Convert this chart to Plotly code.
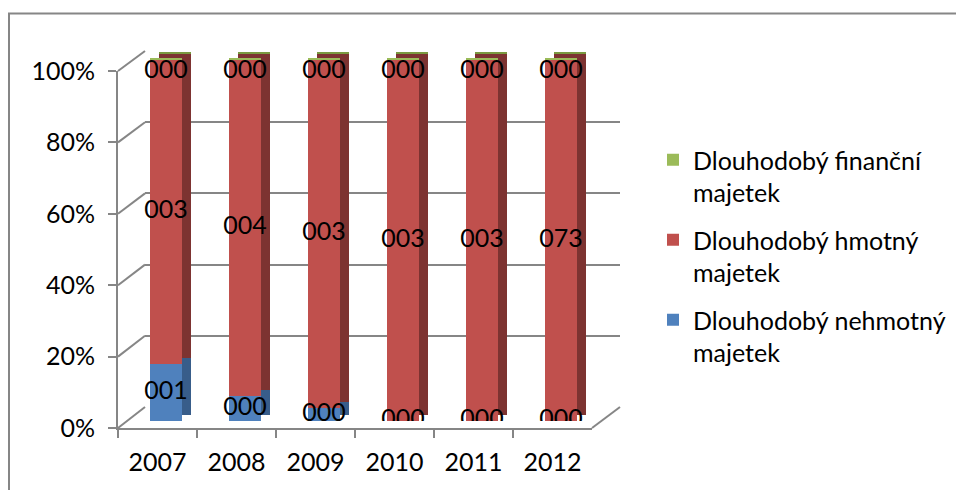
import plotly.graph_objects as go

# ---------------- data ----------------
years = ["2007", "2008", "2009", "2010", "2011", "2012"]
nehmotny = [15.7, 6.9, 3.7, 0.0, 0.0, 0.0]          # Dlouhodobý nehmotný majetek (%)
hmotny = [83.7, 92.5, 95.7, 99.4, 99.4, 99.4]        # Dlouhodobý hmotný majetek (%)
financni = [0.6, 0.6, 0.6, 0.6, 0.6, 0.6]            # Dlouhodobý finanční majetek (%)
nehmotny_lbl = ["001", "000", "000", "000", "000", "000"]
hmotny_lbl = ["003", "004", "003", "003", "003", "073"]
financni_lbl = ["000", "000", "000", "000", "000", "000"]
names = ["Dlouhodobý nehmotný<br>majetek", "Dlouhodobý hmotný<br>majetek", "Dlouhodobý finanční<br>majetek"]
y_ticks = [0, 20, 40, 60, 80, 100]
y_tick_text = ["0%", "20%", "40%", "60%", "80%", "100%"]

# ---------------- style ----------------
W, H = 956, 490
FONT = "Lato"
FS = 25
GRID = "#868686"
front_cols = ["#4F81BD", "#C0504D", "#9BBB59"]
side_cols = ["#385D8A", "#7D3331", "#7A9A40"]


def px(x):
    return x / W


def py(y):
    return 1 - y / H


# geometry (pixels)
front_x0, front_x1, front_y0, front_y1 = 118, 592, 428, 71   # front plane
back_x0, back_x1, back_y0, back_y1 = 145, 620, 407, 51       # back wall
bar_x0, bar_x1, bar_y0, bar_y1 = 126.5, 600.5, 421, 58       # bar front faces
dx, dy = 9, 6                                                # side-face depth

fig = go.Figure()

# back wall gridlines (subplot 1)
fig.add_trace(go.Scatter(x=years, y=[None] * len(years), xaxis="x", yaxis="y",
                         showlegend=False, hoverinfo="skip"))
# front axes (subplot 2)
fig.add_trace(go.Scatter(x=years, y=[None] * len(years), xaxis="x2", yaxis="y2",
                         showlegend=False, hoverinfo="skip"))

series = [nehmotny, hmotny, financni]
# side/top faces (subplot 3) - shifted copy of the stack
for vals, col in zip(series, side_cols):
    fig.add_trace(go.Bar(x=years, y=vals, xaxis="x3", yaxis="y3", marker=dict(color=col, line=dict(width=0)),
                         showlegend=False, hoverinfo="skip"))
# front faces (subplot 4)
for rank, (vals, col, nm) in zip([3, 2, 1], zip(series, front_cols, names)):
    fig.add_trace(go.Bar(x=years, y=vals, xaxis="x4", yaxis="y4", name=nm, legendrank=rank,
                         marker=dict(color=col, line=dict(width=0)), legendgroup=nm))

# data labels
cum = [0.0] * len(years)
positions = ["middle center", "middle center", "bottom center"]
for vals, lbls, pos in zip(series, [nehmotny_lbl, hmotny_lbl, financni_lbl], positions):
    mids = [c + v / 2 for c, v in zip(cum, vals)]
    cum = [c + v for c, v in zip(cum, vals)]
    fig.add_trace(go.Scatter(x=years, y=mids, xaxis="x4", yaxis="y4", mode="text", text=lbls,
                             textposition=pos, textfont=dict(family=FONT, size=FS, color="black"),
                             showlegend=False, hoverinfo="skip"))

hidden = dict(showgrid=False, zeroline=False, showline=False, showticklabels=False, ticks="")

fig.update_layout(
    width=W, height=H,
    margin=dict(l=0, r=0, t=0, b=0, autoexpand=False),
    paper_bgcolor="white", plot_bgcolor="rgba(0,0,0,0)",
    barmode="stack", bargap=0.595,
    font=dict(family=FONT, size=FS, color="black"),
    xaxis=dict(domain=[px(back_x0), px(back_x1)], range=[-0.5, 5.5], **hidden),
    yaxis=dict(domain=[py(back_y0), py(back_y1)], range=[0, 100], showgrid=True, gridcolor=GRID, gridwidth=2,
               tickvals=y_ticks, zeroline=False, showline=False, showticklabels=False, ticks=""),
    xaxis2=dict(domain=[px(front_x0), px(front_x1)], range=[-0.5, 5.5], anchor="y2", showgrid=False,
                zeroline=False, showline=True, linecolor=GRID, linewidth=2, ticks="outside",
                tickson="boundaries", ticklen=8, tickcolor=GRID, tickwidth=2, automargin=False,
                ticklabelstandoff=11,
                tickfont=dict(family=FONT, size=FS, color="black")),
    yaxis2=dict(domain=[py(front_y0), py(front_y1)], range=[0, 100], anchor="x2", showgrid=False,
                zeroline=False, showline=True, linecolor=GRID, linewidth=2, ticks="outside",
                ticklen=8, tickcolor=GRID, tickwidth=2, tickvals=y_ticks, ticktext=y_tick_text,
                automargin=False,
                tickfont=dict(family=FONT, size=FS, color="black"), ticklabelstandoff=8),
    xaxis3=dict(domain=[px(bar_x0 + dx), px(bar_x1 + dx)], range=[-0.5, 5.5], anchor="y3", **hidden),
    yaxis3=dict(domain=[py(bar_y0 - dy), py(bar_y1 - dy)], range=[0, 100], anchor="x3", **hidden),
    xaxis4=dict(domain=[px(bar_x0), px(bar_x1)], range=[-0.5, 5.5], anchor="y4", **hidden),
    yaxis4=dict(domain=[py(bar_y0), py(bar_y1)], range=[0, 100], anchor="x4", **hidden),
    legend=dict(x=px(653), y=py(137), xanchor="left", yanchor="top", traceorder="grouped",
                valign="top", tracegroupgap=12, font=dict(family=FONT, size=FS, color="black"),
                bgcolor="rgba(0,0,0,0)"),
    showlegend=True,
)

# 3D wall connectors (left wall diagonals and floor)
shapes = []
for v in y_ticks:
    yf = front_y0 + (front_y1 - front_y0) * v / 100
    yb = back_y0 + (back_y1 - back_y0) * v / 100
    shapes.append(dict(type="line", xref="paper", yref="paper", x0=px(front_x0), y0=py(yf),
                       x1=px(back_x0), y1=py(yb), line=dict(color=GRID, width=2), layer="below"))
shapes.append(dict(type="line", xref="paper", yref="paper", x0=px(front_x1), y0=py(front_y0),
                   x1=px(back_x1), y1=py(back_y0), line=dict(color=GRID, width=2), layer="below"))
# chart border
shapes.append(dict(type="rect", xref="paper", yref="paper", x0=px(9), y0=py(520), x1=px(990), y1=py(13.5),
                   line=dict(color=GRID, width=2), layer="below"))
fig.update_layout(shapes=shapes)

fig.write_html("out.html")
